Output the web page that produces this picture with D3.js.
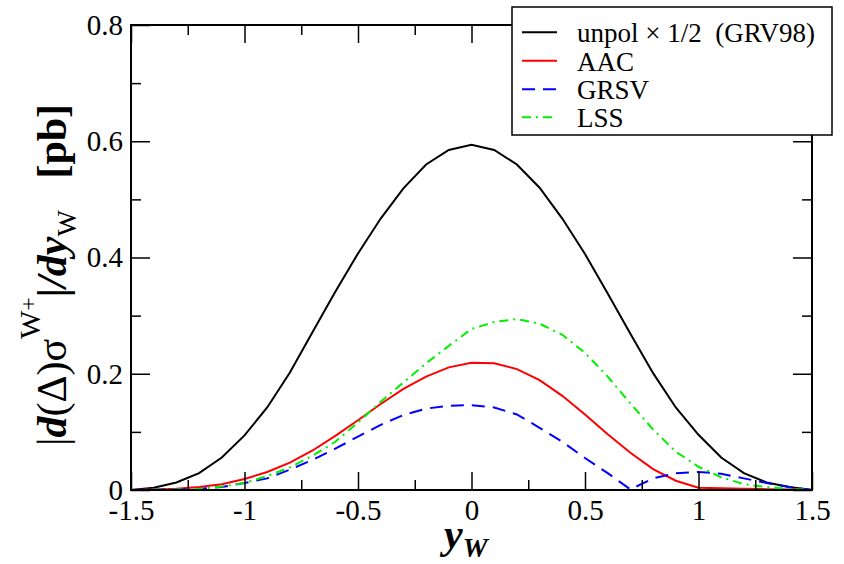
<!DOCTYPE html>
<html>
<head>
<meta charset="utf-8">
<script src="https://cdn.jsdelivr.net/npm/d3@7"></script>
<style>
  html, body { margin: 0; padding: 0; background: #fff; }
  svg { display: block; }
  text { font-family: "Liberation Serif", "Times New Roman", serif; fill: #000; }
</style>
</head>
<body>
<svg id="chart" width="844" height="564"></svg>
<script>
// ---- data ----
const yw = [-1.5, -1.4, -1.3, -1.2, -1.1, -1.0, -0.9, -0.8, -0.7, -0.6, -0.5, -0.4, -0.3, -0.2, -0.1, 0.0,
            0.1, 0.2, 0.3, 0.4, 0.5, 0.6, 0.7, 0.8, 0.9, 1.0, 1.1, 1.2, 1.3, 1.4, 1.5];
const unpol = [0, 0.004, 0.013, 0.029, 0.056, 0.094, 0.142, 0.202, 0.272, 0.341, 0.407, 0.467, 0.519, 0.560, 0.585, 0.594,
               0.585, 0.560, 0.520, 0.467, 0.406, 0.338, 0.269, 0.201, 0.142, 0.095, 0.056, 0.029, 0.013, 0.005, 0];
const aac = [0, 0.001, 0.002, 0.005, 0.010, 0.019, 0.031, 0.047, 0.068, 0.093, 0.120, 0.148, 0.174, 0.195, 0.211, 0.219,
             0.218, 0.208, 0.189, 0.162, 0.130, 0.096, 0.064, 0.036, 0.016, 0.004, 0.003, 0.002, 0.0015, 0.001, 0];
const grsv = [0, 0.0005, 0.001, 0.002, 0.005, 0.012, 0.020, 0.035, 0.052, 0.071, 0.092, 0.112, 0.129, 0.140, 0.145, 0.146,
              0.142, 0.130, 0.107, 0.083, 0.055, 0.029, 0.001, 0.020, 0.029, 0.031, 0.028, 0.020, 0.012, 0.005, 0];
const lss = [0, 0.0005, 0.001, 0.002, 0.006, 0.012, 0.024, 0.039, 0.059, 0.083, 0.116, 0.152, 0.185, 0.218, 0.248, 0.277,
             0.289, 0.294, 0.286, 0.267, 0.236, 0.195, 0.149, 0.104, 0.066, 0.040, 0.022, 0.010, 0.005, 0.002, 0];

const seriesNames = ["unpol \u00d7 1/2  (GRV98)", "AAC", "GRSV", "LSS"];
const xMajorTicks = [-1.5, -1, -0.5, 0, 0.5, 1, 1.5];
const xMinorTicks = [-1.25, -0.75, -0.25, 0.25, 0.75, 1.25];
const yMajorTicks = [0, 0.2, 0.4, 0.6, 0.8];
const yMinorTicks = [0.1, 0.3, 0.5, 0.7];

// ---- layout ----
const L = 131, R = 812, T = 25, B = 490;
const svg = d3.select("#chart");
const x = d3.scaleLinear().domain([-1.5, 1.5]).range([L, R]);
const y = d3.scaleLinear().domain([0, 0.8]).range([B, T]);

const styles = [
  { color: "#000000", dash: null },
  { color: "#ff0000", dash: null },
  { color: "#0000ff", dash: "13,8" },
  { color: "#00f000", dash: "9,5,2,5" }
];
const allSeries = [unpol, aac, grsv, lss];

const line = d3.line().x((d, i) => x(yw[i])).y(d => y(d));

const gCurves = svg.append("g");
allSeries.forEach((s, k) => {
  gCurves.append("path")
    .datum(s)
    .attr("d", line)
    .attr("fill", "none")
    .attr("stroke", styles[k].color)
    .attr("stroke-width", 2)
    .attr("stroke-dasharray", styles[k].dash);
});

// ---- axes ----
function styleAxis(g) {
  g.select(".domain").remove();
  g.selectAll(".tick line").attr("stroke", "#000").attr("stroke-width", 1.5);
  g.selectAll(".tick text").attr("font-family", "Liberation Serif, serif").attr("font-size", 29).attr("fill", "#000");
}
const fmt = d => String(d);

svg.append("g").attr("transform", `translate(0,${B})`)
  .call(d3.axisBottom(x).tickValues(xMajorTicks).tickSize(-18).tickPadding(9).tickFormat(fmt)).call(styleAxis);
svg.append("g").attr("transform", `translate(0,${B})`)
  .call(d3.axisBottom(x).tickValues(xMinorTicks).tickSize(-10).tickFormat("")).call(styleAxis);
svg.append("g").attr("transform", `translate(0,${T})`)
  .call(d3.axisTop(x).tickValues(xMajorTicks).tickSize(-18).tickFormat("")).call(styleAxis);
svg.append("g").attr("transform", `translate(0,${T})`)
  .call(d3.axisTop(x).tickValues(xMinorTicks).tickSize(-10).tickFormat("")).call(styleAxis);

svg.append("g").attr("transform", `translate(${L},0)`)
  .call(d3.axisLeft(y).tickValues(yMajorTicks).tickSize(-19).tickPadding(8).tickFormat(fmt)).call(styleAxis);
svg.append("g").attr("transform", `translate(${L},0)`)
  .call(d3.axisLeft(y).tickValues(yMinorTicks).tickSize(-10).tickFormat("")).call(styleAxis);
svg.append("g").attr("transform", `translate(${R},0)`)
  .call(d3.axisRight(y).tickValues(yMajorTicks).tickSize(-19).tickFormat("")).call(styleAxis);
svg.append("g").attr("transform", `translate(${R},0)`)
  .call(d3.axisRight(y).tickValues(yMinorTicks).tickSize(-10).tickFormat("")).call(styleAxis);

// frame
svg.append("rect").attr("x", L).attr("y", T).attr("width", R - L).attr("height", B - T)
  .attr("fill", "none").attr("stroke", "#000").attr("stroke-width", 2);

// ---- x label ----
const xl = svg.append("text").attr("x", 444).attr("y", 548).attr("font-size", 42);
xl.append("tspan").attr("font-weight", "bold").attr("font-style", "italic").text("y");
xl.append("tspan").attr("font-weight", "bold").attr("font-style", "italic").attr("font-size", 28).attr("dy", 9).text("W");

// ---- y label ----
const yl = svg.append("text").attr("transform", "translate(66,446) rotate(-90)").attr("font-size", 42)
  .attr("xml:space", "preserve").style("white-space", "pre");
yl.append("tspan").text("|");
yl.append("tspan").attr("font-weight", "bold").attr("font-style", "italic").text("d");
yl.append("tspan").text("(\u0394)\u03c3");
yl.append("tspan").attr("font-size", 30).attr("dy", -26).text("W");
yl.append("tspan").attr("font-size", 24).attr("dy", -4).text("+");
yl.append("tspan").attr("font-weight", "bold").attr("font-style", "italic").attr("dy", 30).text("|/dy");
yl.append("tspan").attr("font-size", 28).attr("dy", 10).text("W");
yl.append("tspan").attr("dy", -10).text("   ");
yl.append("tspan").attr("font-weight", "bold").text("[pb]");

// ---- legend ----
const lg = svg.append("g");
lg.append("rect").attr("x", 512).attr("y", 7).attr("width", 320).attr("height", 128)
  .attr("fill", "#fff").attr("stroke", "#000").attr("stroke-width", 1.5);
const rowY = [32.3, 60.7, 89.3, 117.3];
seriesNames.forEach((name, k) => {
  lg.append("line").attr("x1", 522).attr("x2", 557).attr("y1", rowY[k]).attr("y2", rowY[k])
    .attr("stroke", styles[k].color).attr("stroke-width", 2).attr("stroke-dasharray", styles[k].dash);
  lg.append("text").attr("x", 577).attr("y", rowY[k] + 10).attr("font-size", 27)
    .attr("xml:space", "preserve").style("white-space", "pre").text(name);
});
</script>
</body>
</html>
